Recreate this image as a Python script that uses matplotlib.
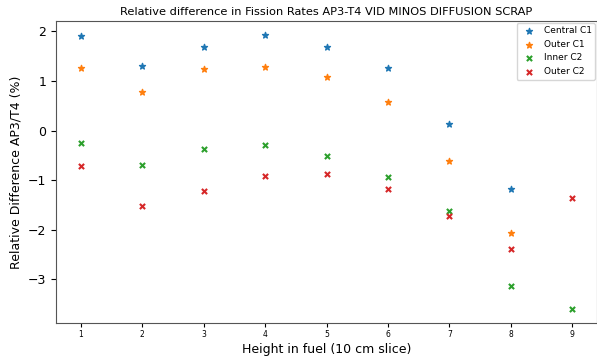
import matplotlib.pyplot as plt
import numpy as np

heights = [1, 2, 3, 4, 5, 6, 7, 8, 9]

central_c1 = [1.91, 1.30, 1.68, 1.93, 1.69, 1.26, 0.14, -1.18]
outer_c1 = [1.26, 0.78, 1.24, 1.27, 1.07, 0.57, -0.61, -2.06]
inner_c2 = [-0.26, -0.69, -0.37, -0.29, -0.51, -0.93, -1.63, -3.13, -3.60]
outer_c2 = [-0.72, -1.52, -1.22, -0.92, -0.88, -1.18, -1.73, -2.38, -1.37]

fig = plt.figure(figsize=(5.97, 3.56), dpi=100)
ax = fig.add_axes([0.094, 0.093, 0.906, 0.848])

ax.scatter(heights[:8], central_c1, marker='*', s=20, color='tab:blue', label='Central C1')
ax.scatter(heights[:8], outer_c1, marker='*', s=20, color='tab:orange', label='Outer C1')
ax.scatter(heights, inner_c2, marker='x', s=14, color='tab:green', label='Inner C2')
ax.scatter(heights, outer_c2, marker='x', s=14, color='tab:red', label='Outer C2')

ax.set_title('Relative difference in Fission Rates AP3-T4 VID MINOS DIFFUSION SCRAP',
             fontsize=8.2, pad=4)
ax.set_xlabel('Height in fuel (10 cm slice)', fontsize=9, labelpad=3)
ax.set_ylabel('Relative Difference AP3/T4 (%)', fontsize=9)
ax.set_xticks(heights)
ax.tick_params(axis='x', labelsize=5.5, length=3, pad=2)
ax.tick_params(axis='y', labelsize=9, length=3.5)
for s in ax.spines.values():
    s.set_color('#555555')

ax.legend(loc='upper right', fontsize=6.5, handletextpad=0.6, borderaxespad=0.2)

fig.savefig('out.png', dpi=100)
